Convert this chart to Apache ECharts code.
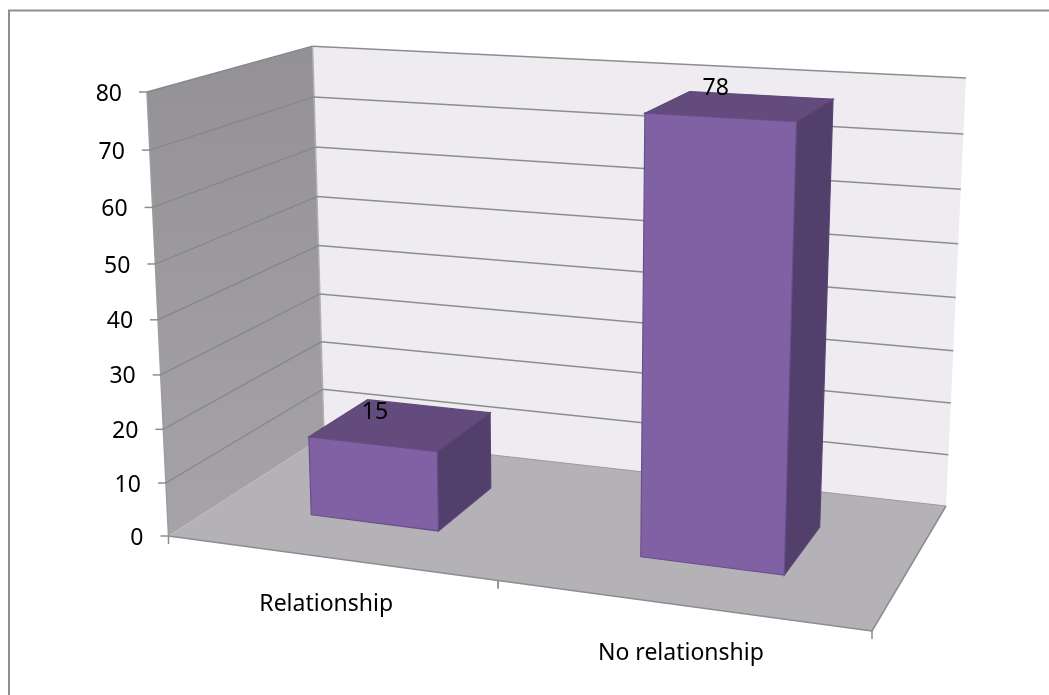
<!DOCTYPE html>
<html>
<head>
<meta charset="utf-8">
<style>html,body{margin:0;padding:0;background:#fff}#c{width:1049px;height:695px}</style>
<script src="https://cdn.jsdelivr.net/npm/echarts@6/dist/echarts.min.js"></script>
</head>
<body>
<div id="c"></div>
<script>
// ---- data ----
const categories = ['Relationship', 'No relationship'];
const values = [15, 78];
const yTicks = [0, 10, 20, 30, 40, 50, 60, 70, 80];

// ---- 3D view: box corners on the page (u along categories, v depth, w height) ----
const O = [168.5, 536], X = [872, 631], Y = [324, 436], Z = [147, 92];
const S = [946, 506], R = [966, 78];
const FONT = '"Noto Sans"';
const BAR_HALF = 0.2;   // half bar width as a share of the category band
const BAR_V = [0.30, 0.70];
const CAT_LABEL_OFFSET = [[-2, 47], [2, 49]];
const BAR_LABEL_OFFSET = [[-26, -12], [-25, -18]];

function solve2(a, b, c, d, e, f) { const t = a * d - b * c; return [(e * d - b * f) / t, (a * f - e * c) / t]; }
// perspective denominators from the floor quad and the height spacing
const [pa, pb] = solve2(X[0] - S[0], Y[0] - S[0], X[1] - S[1], Y[1] - S[1],
  S[0] - X[0] - Y[0] + O[0], S[1] - X[1] - Y[1] + O[1]);
const pc = -0.051;
function rawP(u, v, w) {
  const d = 1 + pa * u + pb * v + pc * w;
  return [0, 1].map(i => (O[i] + u * ((1 + pa) * X[i] - O[i]) + v * ((1 + pb) * Y[i] - O[i]) + w * ((1 + pc) * Z[i] - O[i])) / d);
}
const rawR = rawP(1, 1, 1), fix = [R[0] - rawR[0], R[1] - rawR[1]];
function P(u, v, w) { const p = rawP(u, v, w); return [p[0] + fix[0] * u * w, p[1] + fix[1] * u * w]; }

const GRID = '#8d8d8d';
const line = (a, b, col, w) => ({ type: 'line', shape: { x1: a[0], y1: a[1], x2: b[0], y2: b[1] }, style: { stroke: col || GRID, lineWidth: w || 1.5 }, silent: true });
const poly = (pts, fill, stroke) => ({ type: 'polygon', shape: { points: pts }, style: { fill, stroke: stroke || 'none', lineWidth: stroke ? 1.2 : 0 }, silent: true });
const label = (t, x, y, align) => ({ type: 'text', style: { text: t, x, y, align: align || 'center', verticalAlign: 'middle', fill: '#000', font: '23px ' + FONT }, silent: true });

// normalise the library's scale output into the box
function toU(params, px) { return (px - params.coordSys.x) / params.coordSys.width; }
function toW(params, py) { return (params.coordSys.y + params.coordSys.height - py) / params.coordSys.height; }

function renderWalls() {
  return { type: 'group', children: [
    poly([P(0, 0, 0), P(0, 1, 0), P(0, 1, 1), P(0, 0, 1)], { type: 'linear', x: 0, y: 0, x2: 0, y2: 1, colorStops: [{ offset: 0, color: '#939196' }, { offset: 1, color: '#a6a4a9' }] }),
    poly([P(0, 1, 0), P(1, 1, 0), P(1, 1, 1), P(0, 1, 1)], '#eeecf1'),
    poly([P(0, 0, 0), P(1, 0, 0), P(1, 1, 0), P(0, 1, 0)], '#b4b2b7'),
    line(P(0, 0, 0), P(0, 0, 1), '#9c9c9c'),
    line(P(0, 1, 0), P(0, 1, 1), '#b0b0b0', 1.5),
    line(P(0, 1, 0), P(1, 1, 0), '#9a9a9a', 1),
    line(P(0, 0, 0), P(1, 0, 0)),
    line(P(1, 0, 0), P(1, 1, 0))
  ] };
}
function renderTick(params, api) {
  const c = api.coord([0, api.value(1)]);
  const w = toW(params, c[1]);
  const a = P(0, 0, w), b = P(0, 1, w), d = P(1, 1, w);
  const kids = [
    line([a[0] - 8, a[1]], a),
    label(String(api.value(1)), a[0] - 25, a[1] + 2, 'right')
  ];
  if (w > 0.001) { kids.push(line(a, b, '#868688', 1.3), line(b, d)); }
  return { type: 'group', children: kids };
}
function renderCat(params, api) {
  const i = api.value(0);
  const c = api.coord([i, 0]), bw = api.size([1, 0])[0];
  const mid = toU(params, c[0]), half = toU(params, c[0] + bw / 2) - mid;
  const l = P(mid - half, 0, 0), r = P(mid + half, 0, 0), m = P(mid, 0, 0);
  const kids = [line(l, [l[0], l[1] + 8]), line(r, [r[0], r[1] + 8])];
  kids.push(label(categories[i], m[0] + CAT_LABEL_OFFSET[i][0], m[1] + CAT_LABEL_OFFSET[i][1]));
  return { type: 'group', children: kids };
}
function renderBar(params, api) {
  const i = api.value(0), val = api.value(1);
  const c = api.coord([i, val]), bw = api.size([1, 0])[0];
  const mid = toU(params, c[0]), hw = toU(params, c[0] + bw * BAR_HALF) - mid, w = toW(params, c[1]);
  const u0 = mid - hw, u1 = mid + hw, v0 = BAR_V[0], v1 = BAR_V[1];
  const top = P(mid, (v0 + v1) / 2, w);
  return { type: 'group', children: [
    poly([P(u1, v0, 0), P(u1, v1, 0), P(u1, v1, w), P(u1, v0, w)], '#533f6b', '#5a4476'),
    poly([P(u0, v0, w), P(u1, v0, w), P(u1, v1, w), P(u0, v1, w)], '#634c7d', '#5f4878'),
    poly([P(u0, v0, 0), P(u1, v0, 0), P(u1, v0, w), P(u0, v0, w)], '#8062a4', '#694e8c'),
    label(String(val), top[0] + BAR_LABEL_OFFSET[i][0], top[1] + BAR_LABEL_OFFSET[i][1])
  ] };
}

const chart = echarts.init(document.getElementById('c'), null, { renderer: 'canvas' });
chart.setOption({
  animation: false,
  backgroundColor: '#fff',
  graphic: [
    { type: 'line', z: 0, shape: { x1: 8, y1: 10.5, x2: 1049, y2: 10.5 }, style: { stroke: '#8f8f8f', lineWidth: 2 }, silent: true },
    { type: 'line', z: 0, shape: { x1: 9, y1: 10, x2: 9, y2: 695 }, style: { stroke: '#8f8f8f', lineWidth: 2 }, silent: true }
  ],
  grid: { left: 0, right: 0, top: 0, bottom: 0 },
  xAxis: { type: 'category', data: categories, show: false },
  yAxis: { type: 'value', min: 0, max: 80, interval: 10, show: false },
  series: [
    { type: 'custom', name: 'walls', z: 1, clip: false, renderItem: renderWalls, data: [[0, 0]], silent: true },
    { type: 'custom', name: 'ticks', z: 2, clip: false, renderItem: renderTick, data: yTicks.map(t => [0, t]), silent: true },
    { type: 'custom', name: 'categories', z: 2, clip: false, renderItem: renderCat, data: categories.map((_, i) => [i, 0]), silent: true },
    { type: 'custom', name: 'bars', z: 3, clip: false, renderItem: renderBar, data: values.map((v, i) => [i, v]), encode: { x: 0, y: 1 }, silent: true }
  ]
});
</script>
</body>
</html>
